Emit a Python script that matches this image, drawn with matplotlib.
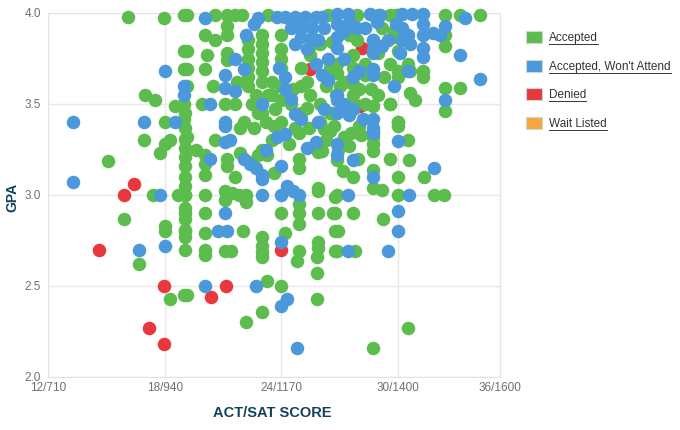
import matplotlib
matplotlib.use('Agg')
import matplotlib.pyplot as plt
import matplotlib.transforms as mtransforms
from matplotlib.patches import Rectangle
from matplotlib.lines import Line2D

plt.rcParams['font.family'] = ['Liberation Sans', 'DejaVu Sans']

# ACT score (x) and GPA (y) for each applicant group
accepted_x = [
    16.13, 17.98, 19.0, 19.0, 19.0, 16.99, 17.5, 18.53, 19.0, 18.0, 19.0,
    16.95, 17.76, 18.0, 18.27, 19.04, 15.1, 19.04, 17.41, 18.7, 19.04, 15.92, 18.0, 18.0,
    19.04, 19.04, 19.04, 19.04, 16.68, 18.27, 19.0,
    20.07, 21.4, 22.99, 22.99, 24.79, 25.85, 25.85, 26.76, 19.13, 23.24, 24.0, 25.85,
    22.99, 22.18, 30.52, 28.73, 26.84, 27.78,
    30.0, 30.56, 31.35, 30.0, 28.73, 28.73, 28.73, 28.73, 28.73, 28.73, 27.7, 27.18,
    27.96, 26.84, 26.84, 30.0, 31.86, 32.37, 29.24, 26.67, 27.7, 26.93,
    32.41, 33.18, 34.2, 32.41, 32.41, 32.41, 33.18, 32.41, 31.3, 31.3, 30.6, 30.87,
    29.58, 30.0, 29.58, 29.9,
    19.13, 20.07, 20.07, 21.2, 21.2, 21.9, 22.5, 22.8, 23.0, 23.24, 24.9, 24.9, 24.9,
    25.9, 25.9, 25.9, 25.9, 25.9, 26.07,
    19.04, 19.04, 19.04, 20.1, 20.1, 20.1, 20.1, 20.1, 21.1, 21.1, 21.45, 21.8, 22.2,
    22.2, 22.04, 23.0, 23.0, 24.0, 24.9, 24.9, 24.9, 24.2, 24.9, 26.76, 26.76, 26.76,
    25.9, 21.1,
    21.9, 22.6, 23.6, 24.7, 25.4, 26.2,
    19.13, 21.2, 21.6, 21.2, 20.07, 21.2, 23.0, 24.0, 25.6, 26.0, 26.6, 19.13, 20.16,
    21.2, 21.2, 22.3, 22.3, 22.3, 22.3, 22.3, 22.3, 23.0, 23.0, 23.0, 23.0, 23.0, 24.0,
    24.0, 24.0, 24.0, 19.13, 19.13, 20.07, 19.9, 21.1, 21.6, 22.5, 22.1, 23.2, 24.0,
    25.0, 25.5, 26.0, 25.3, 26.5, 24.5, 25.0, 26.3, 26.8,
    20.6, 22.0, 23.3, 26.4, 27.9, 29.0, 30.0,
    27.5, 27.9, 28.7, 29.2, 29.8, 29.9, 30.0, 30.52, 30.6, 30.0, 30.0, 26.84, 26.84,
    27.7, 27.7, 27.7, 27.7, 27.7, 28.3, 28.6, 28.3, 28.7, 29.6, 30.0, 26.6, 29.0,
    26.7, 27.2, 27.6, 28.0, 28.1, 26.9, 27.5,
    23.5, 23.5, 22.8, 23.6, 21.6, 20.6, 20.6, 19.6, 29.2, 29.6, 30.5,
    19.04, 19.04, 19.04, 19.04, 19.04, 19.04, 19.04,
    27.3, 28.0, 28.3, 27.0, 25.0, 25.5, 26.5, 29.3, 29.6, 29.0, 24.4, 26.3, 26.0,
    26.5, 23.3, 23.7, 23.0, 24.0, 21.7, 20.5, 22.7, 23.5, 24.6, 25.3,
]
accepted_gpa = [
    3.98, 3.97, 3.99, 3.79, 3.69, 3.55, 3.52, 3.49, 3.50, 3.40, 3.42,
    3.30, 3.23, 3.28, 3.30, 3.31, 3.185, 3.16, 3.0, 3.0, 3.0, 2.87, 2.83, 2.80,
    2.87, 2.81, 2.77, 2.70, 2.62, 2.43, 2.45,
    2.67, 2.69, 2.685, 2.66, 2.64, 2.66, 2.57, 2.69, 2.45, 2.53, 2.50, 2.43,
    2.355, 2.30, 2.27, 2.16, 2.69, 2.69,
    3.38, 3.19, 3.10, 3.10, 3.14, 3.04, 3.35, 3.32, 3.28, 3.24, 3.10, 3.13,
    3.20, 3.19, 3.0, 3.0, 3.0, 3.0, 2.87, 2.90, 2.90, 2.80,
    3.99, 3.99, 3.99, 3.88, 3.82, 3.59, 3.59, 3.46, 3.68, 3.65, 3.56, 3.52,
    3.50, 3.40, 3.99, 3.99,
    3.32, 3.22, 3.17, 3.20, 3.16, 3.23, 3.18, 3.22, 3.25, 3.22, 3.15, 3.20, 3.34,
    3.235, 3.04, 3.02, 2.90, 2.74, 3.24,
    3.0, 2.90, 2.80, 3.11, 3.0, 2.90, 2.79, 2.70, 3.02, 2.97, 3.01, 3.0, 3.0,
    2.96, 2.80, 2.77, 2.72, 2.90, 2.95, 2.90, 2.84, 2.79, 2.69, 2.99, 2.90, 2.80,
    2.71, 2.69,
    3.37, 3.37, 3.38, 3.37, 3.37, 3.36,
    3.99, 3.99, 3.99, 3.93, 3.88, 3.88, 3.88, 3.88, 3.83, 3.83, 3.84, 3.79, 3.77,
    3.78, 3.74, 3.85, 3.80, 3.75, 3.70, 3.65, 3.60, 3.83, 3.78, 3.73, 3.68, 3.62, 3.80,
    3.75, 3.70, 3.60, 3.69, 3.60, 3.69, 3.50, 3.50, 3.50, 3.50, 3.40, 3.40, 3.40,
    3.60, 3.55, 3.50, 3.48, 3.45, 3.50, 3.45, 3.60, 3.55,
    3.99, 3.99, 3.99, 3.99, 3.99, 3.99, 3.99,
    3.88, 3.85, 3.85, 3.92, 3.90, 3.87, 3.79, 3.72, 3.68, 3.68, 3.65, 3.72, 3.67,
    3.77, 3.70, 3.61, 3.55, 3.50, 3.66, 3.58, 3.50, 3.49, 3.50, 3.40, 3.45, 3.55,
    3.38, 3.32, 3.34, 3.38, 3.33, 3.25, 3.27,
    3.55, 3.30, 3.45, 3.12, 3.10, 3.30, 3.85, 3.25, 3.03, 3.20, 3.30,
    3.45, 3.37, 3.26, 3.21, 3.10, 3.05, 2.93,
    3.62, 3.58, 3.72, 3.60, 3.70, 3.77, 3.70, 3.65, 3.72, 3.78, 3.28, 3.30, 3.40,
    3.35, 3.55, 3.47, 3.45, 3.52, 3.62, 3.60, 3.55, 3.62, 3.58, 3.62,
]

wont_attend_x = [
    18.0, 19.0, 19.0, 13.3, 16.95, 18.53, 13.3, 17.76, 18.0, 16.68,
    20.1, 22.69, 24.3, 24.0, 24.82, 27.44, 29.5, 24.0,
    30.0, 31.86, 28.73, 27.7, 26.84, 26.84, 27.44, 30.56, 30.0, 30.0, 28.73, 28.73,
    32.41, 33.44, 33.18, 34.2, 32.41, 31.3, 31.3, 31.3, 31.3, 31.3, 30.52, 31.8, 32.15,
    26.84, 27.44, 28.56, 29.07, 30.2, 30.7, 20.07, 22.8, 22.6, 23.76, 24.19, 24.7,
    25.2, 25.8, 26.07, 24.5, 25.0, 25.6, 26.2,
    22.2, 25.0, 24.7, 21.6, 22.1, 25.8, 26.07, 26.4, 21.1, 21.1, 21.6, 20.33, 23.0,
    21.1, 24.7, 25.0, 25.9,
    26.84, 27.2, 26.84, 26.84, 28.3, 28.73, 28.73, 29.2, 28.73, 30.2, 30.5, 30.2, 30.6,
    30.1, 27.7, 28.73, 28.73, 26.84, 26.84, 27.2, 27.7, 26.84, 27.5, 28.2, 28.73,
    21.1, 21.1, 21.35, 23.76, 24.2, 25.3, 25.8, 20.33, 22.1, 22.4, 22.7, 23.0, 23.0,
    23.2, 24.0, 23.0, 24.0, 24.27, 24.6, 24.9, 21.1, 20.76, 21.2,
    24.2, 24.2, 24.5, 23.9,
    27.2, 28.0, 27.9, 27.5, 25.3, 25.9, 26.4, 29.5, 29.8, 26.2, 28.9, 29.9, 25.6,
]
wont_attend_gpa = [
    3.68, 3.60, 3.55, 3.40, 3.40, 3.40, 3.07, 3.0, 2.72, 2.70,
    2.50, 2.50, 2.43, 2.39, 2.16, 2.69, 2.69, 2.74,
    3.295, 3.15, 3.10, 3.19, 3.28, 3.22, 3.0, 3.0, 2.91, 2.80, 3.37, 3.34,
    3.93, 3.97, 3.77, 3.64, 3.52, 3.995, 3.94, 3.88, 3.81, 3.76, 3.68, 3.89, 3.88,
    3.995, 3.995, 3.995, 3.99, 3.995, 3.995, 3.97, 3.97, 3.94, 3.98, 3.98, 3.98,
    3.98, 3.98, 3.98, 3.92, 3.92, 3.92, 3.92,
    3.88, 3.87, 3.83, 3.75, 3.69, 3.72, 3.66, 3.63, 3.66, 3.59, 3.57, 3.50, 3.50,
    3.40, 3.445, 3.42, 3.40,
    3.94, 3.90, 3.87, 3.81, 3.92, 3.85, 3.78, 3.82, 3.80, 3.92, 3.88, 3.85, 3.83,
    3.78, 3.65, 3.69, 3.66, 3.55, 3.52, 3.50, 3.47, 3.45, 3.44, 3.42, 3.42,
    3.38, 3.29, 3.30, 3.32, 3.335, 3.26, 3.29, 3.20, 3.20, 3.17, 3.15, 3.11, 3.09,
    3.25, 3.16, 3.0, 3.0, 3.05, 3.02, 3.0, 2.90, 2.80, 2.80,
    3.65, 3.58, 3.53, 3.70,
    3.75, 3.68, 3.92, 3.95, 3.80, 3.85, 3.75, 3.85, 3.60, 3.47, 3.95, 3.94, 3.86,
]

denied_x = [16.44, 15.92, 14.62, 17.98, 17.21, 17.98, 20.37, 21.14, 24.0, 25.47, 28.04, 28.13]
denied_gpa = [3.06, 3.0, 2.70, 2.50, 2.27, 2.18, 2.44, 2.50, 2.70, 3.69, 3.49, 3.81]

wait_listed_x = []
wait_listed_gpa = []

x_ticks = [12, 18, 24, 30, 36]
x_tick_labels = ['12/710', '18/940', '24/1170', '30/1400', '36/1600']
y_ticks = [2.0, 2.5, 3.0, 3.5, 4.0]

green = '#5cbd4e'
blue = '#4b98da'
red = '#e8383d'
orange = '#f4a640'

fig = plt.figure(figsize=(6.8, 4.31), dpi=100)
ax = fig.add_axes([48 / 680, 1 - 378 / 431, 452 / 680, 364 / 431])

x_max = 35.25
ax.set_xlim(12, x_max)
ax.set_ylim(2.0, 4.0)

ms = 95
ax.scatter(denied_x, denied_gpa, s=ms, color=red, linewidths=0, zorder=3, clip_on=False)
ax.scatter(accepted_x, accepted_gpa, s=ms, color=green, linewidths=0, zorder=4, clip_on=False)
ax.scatter(wont_attend_x, wont_attend_gpa, s=ms, color=blue, linewidths=0, zorder=5, clip_on=False)
ax.scatter(wait_listed_x, wait_listed_gpa, s=ms, color=orange, linewidths=0, zorder=6, clip_on=False)

# last label sits on the right edge of the plot
ax.set_xticks([min(t, x_max) for t in x_ticks])
ax.set_xticklabels(x_tick_labels)
ax.set_yticks(y_ticks)
ax.set_yticklabels(['%.1f' % v for v in y_ticks])
ax.tick_params(length=0, colors='#707070', labelsize=8.5)
ax.tick_params(axis='x', pad=3)
ax.tick_params(axis='y', pad=5)
shift_up = mtransforms.ScaledTranslation(0, 1.2 / 72, fig.dpi_scale_trans)
for lab in ax.get_yticklabels():
    lab.set_transform(lab.get_transform() + shift_up)
ax.grid(True, color='#e8e8e8', linewidth=1)
ax.set_axisbelow(True)
for sp in ax.spines.values():
    sp.set_color('#e3e3e3')

fig.text(272 / 680, 1 - 413 / 431, 'ACT/SAT SCORE', ha='center', va='center',
         fontsize=10.5, fontweight='bold', color='#12435a')
fig.text(12 / 680, 1 - 197 / 431, 'GPA', ha='center', va='center', rotation=90,
         fontsize=10, fontweight='bold', color='#12435a')

# legend drawn by hand (underlined link-style labels)
legend_names = ['Accepted', "Accepted, Won't Attend", 'Denied', 'Wait Listed']
legend_colors = [green, blue, red, orange]
legend_y = [38, 67, 95, 124]
renderer = fig.canvas.get_renderer()
for name, col, yy in zip(legend_names, legend_colors, legend_y):
    fig.patches.append(Rectangle((526 / 680, 1 - (yy + 6) / 431), 16 / 680, 12 / 431,
                                 transform=fig.transFigure, facecolor=col,
                                 edgecolor='#cfd8cf', linewidth=0.8))
    t = fig.text(549 / 680, 1 - yy / 431, name, ha='left', va='center',
                 fontsize=8.5, color='#333333')
    bb = t.get_window_extent(renderer).transformed(fig.transFigure.inverted())
    fig.lines.append(Line2D([bb.x0, bb.x1], [bb.y0 - 0.002, bb.y0 - 0.002],
                            transform=fig.transFigure, color='#333333', linewidth=0.7))

fig.savefig('out.png', dpi=100)
